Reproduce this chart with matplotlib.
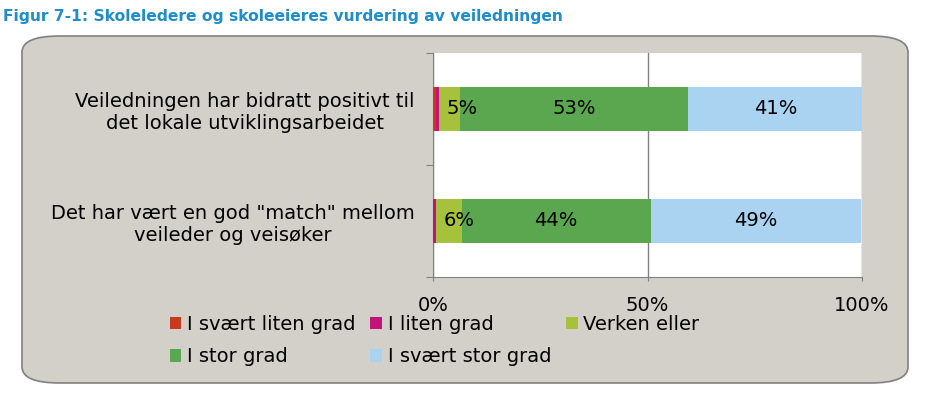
import matplotlib.pyplot as plt
import numpy as np
from matplotlib.patches import FancyBboxPatch, Patch

# statements (top to bottom)
questions = ['Veiledningen har bidratt positivt til\ndet lokale utviklingsarbeidet',
             'Det har vært en god "match" mellom\nveileder og veisøker']
categories = ['I svært liten grad', 'I liten grad', 'Verken eller',
              'I stor grad', 'I svært stor grad']
# percent per category for each statement
svaert_liten = [0.8, 0.0]
liten = [0.6, 0.7]
verken = [5, 6]
stor = [53, 44]
svaert_stor = [41, 49]
values = [svaert_liten, liten, verken, stor, svaert_stor]
colors = ['#C8391F', '#C4137A', '#A6C13B', '#5BA74F', '#AAD3F2']
show_label = [False, False, True, True, True]

FS = 14

fig = plt.figure(figsize=(9.44, 4.03), dpi=100)
fig.patch.set_facecolor('white')

# grey rounded panel behind the chart
panel = FancyBboxPatch((22 / 944, 1 - 383 / 403), 886 / 944, 347 / 403,
                       boxstyle='round,pad=0,rounding_size=0.04',
                       transform=fig.transFigure, facecolor='#D2D0C9',
                       edgecolor='#808080', linewidth=1.2, zorder=-10)
fig.patches.append(panel)

fig.text(3 / 944, 1 - 17 / 403,
         'Figur 7-1: Skoleledere og skoleeieres vurdering av veiledningen',
         color='#1E8DC8', fontsize=11.2, fontweight='bold', va='center', ha='left')

ax = fig.add_axes([433 / 944, 1 - 277 / 403, 429 / 944, 224 / 403])
ax.set_zorder(5)
ax.set_facecolor('white')

y = np.arange(len(questions))
left = np.zeros(len(questions))
for vals, col, lab, show in zip(values, colors, categories, show_label):
    vals = np.array(vals, dtype=float)
    ax.barh(y, vals, left=left, height=0.4, color=col, label=lab, zorder=3)
    if show:
        for yi, v, l in zip(y, vals, left):
            if v < 10:
                ax.text(l + 1.8, yi, '%d%%' % round(v), ha='left', va='center',
                        fontsize=FS, color='black', zorder=4)
            else:
                ax.text(l + v / 2, yi, '%d%%' % round(v), ha='center', va='center',
                        fontsize=FS, color='black', zorder=4)
    left += vals

ax.set_xlim(0, 100)
ax.set_ylim(1.5, -0.5)
ax.set_xticks([0, 50, 100])
ax.set_xticklabels(['0%', '50%', '100%'], fontsize=FS)
ax.tick_params(axis='x', length=3, color='#808080', pad=11)
ax.xaxis.grid(True, color='#808080', linewidth=1, zorder=1)
ax.set_yticks([-0.5, 0.5, 1.5], minor=False)
ax.set_yticklabels([])
ax.set_yticks(y, minor=True)
ax.set_yticklabels(questions, minor=True, fontsize=FS, multialignment='center')
ax.tick_params(axis='y', which='minor', length=0, pad=13)
ax.tick_params(axis='y', which='major', length=5, color='#808080')
for s in ['top', 'right']:
    ax.spines[s].set_visible(False)
ax.spines['left'].set_color('#808080')
ax.spines['bottom'].set_color('#808080')

# matplotlib fills legend columns first, so reorder to get row-wise layout
order = [0, 3, 1, 4, 2]
handles = [Patch(facecolor=colors[i], edgecolor='none') for i in order]
labels = [categories[i] for i in order]
fig.legend(handles, labels, ncol=3, loc='upper left',
           bbox_to_anchor=(162 / 944, 1 - 307 / 403), frameon=False,
           fontsize=FS, handlelength=0.6, handleheight=0.6, handletextpad=0.3,
           columnspacing=0.75, labelspacing=0.7, borderaxespad=0)

fig.savefig('out.png', dpi=100)
